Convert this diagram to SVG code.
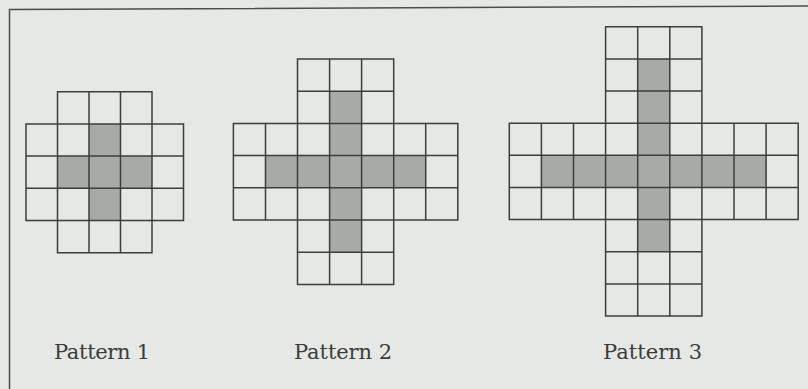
<svg xmlns="http://www.w3.org/2000/svg" width="808" height="389" viewBox="0 0 808 389">
<style>
.bg{fill:#e5e8e5}
.frame{fill:none;stroke:#4a4e4a;stroke-width:1.5}
.shade{fill:#a7aaa7}
.grid{fill:none;stroke:#3b3f3b;stroke-width:1.5;stroke-linecap:square}
.lbl{font-family:"DejaVu Serif","Liberation Serif",serif;font-size:21px;fill:#3a3d3a}
</style>
<rect class="bg" x="0" y="0" width="808" height="389"/>
<path class="frame" d="M9.5,389 V9.5 L808,6"/>
<g id="pattern1">
<rect class="shade" x="89" y="123.9" width="31.5" height="96.6"/>
<rect class="shade" x="57.5" y="156.1" width="94.5" height="32.2"/>
<path class="grid" d="M57.5,91.7H152 M26,123.9H183.5 M26,156.1H183.5 M26,188.3H183.5 M26,220.5H183.5 M57.5,252.7H152 M26,123.9V220.5 M57.5,91.7V252.7 M89,91.7V252.7 M120.5,91.7V252.7 M152,91.7V252.7 M183.5,123.9V220.5"/>
<text class="lbl" x="54" y="359" textLength="96">Pattern 1</text>
</g>
<g id="pattern2">
<rect class="shade" x="329.6" y="91.2" width="32" height="161"/>
<rect class="shade" x="265.5" y="155.6" width="160.2" height="32.2"/>
<path class="grid" d="M297.5,59H393.7 M297.5,91.2H393.7 M233.4,123.4H457.8 M233.4,155.6H457.8 M233.4,187.8H457.8 M233.4,220H457.8 M297.5,252.2H393.7 M297.5,284.4H393.7 M233.4,123.4V220 M265.5,123.4V220 M297.5,59V284.4 M329.6,59V284.4 M361.6,59V284.4 M393.7,59V284.4 M425.7,123.4V220 M457.8,123.4V220"/>
<text class="lbl" x="294" y="359" textLength="98">Pattern 2</text>
</g>
<g id="pattern3">
<rect class="shade" x="637.7" y="58.9" width="32.1" height="192.9"/>
<rect class="shade" x="541.4" y="155.3" width="224.7" height="32.2"/>
<path class="grid" d="M605.6,26.7H701.9 M605.6,58.9H701.9 M605.6,91H701.9 M509.3,123.2H798.2 M509.3,155.3H798.2 M509.3,187.5H798.2 M509.3,219.6H798.2 M605.6,251.8H701.9 M605.6,283.9H701.9 M605.6,316H701.9 M509.3,123.2V219.6 M541.4,123.2V219.6 M573.5,123.2V219.6 M605.6,26.7V316 M637.7,26.7V316 M669.8,26.7V316 M701.9,26.7V316 M734,123.2V219.6 M766.1,123.2V219.6 M798.2,123.2V219.6"/>
<text class="lbl" x="603" y="359" textLength="99">Pattern 3</text>
</g>
</svg>
